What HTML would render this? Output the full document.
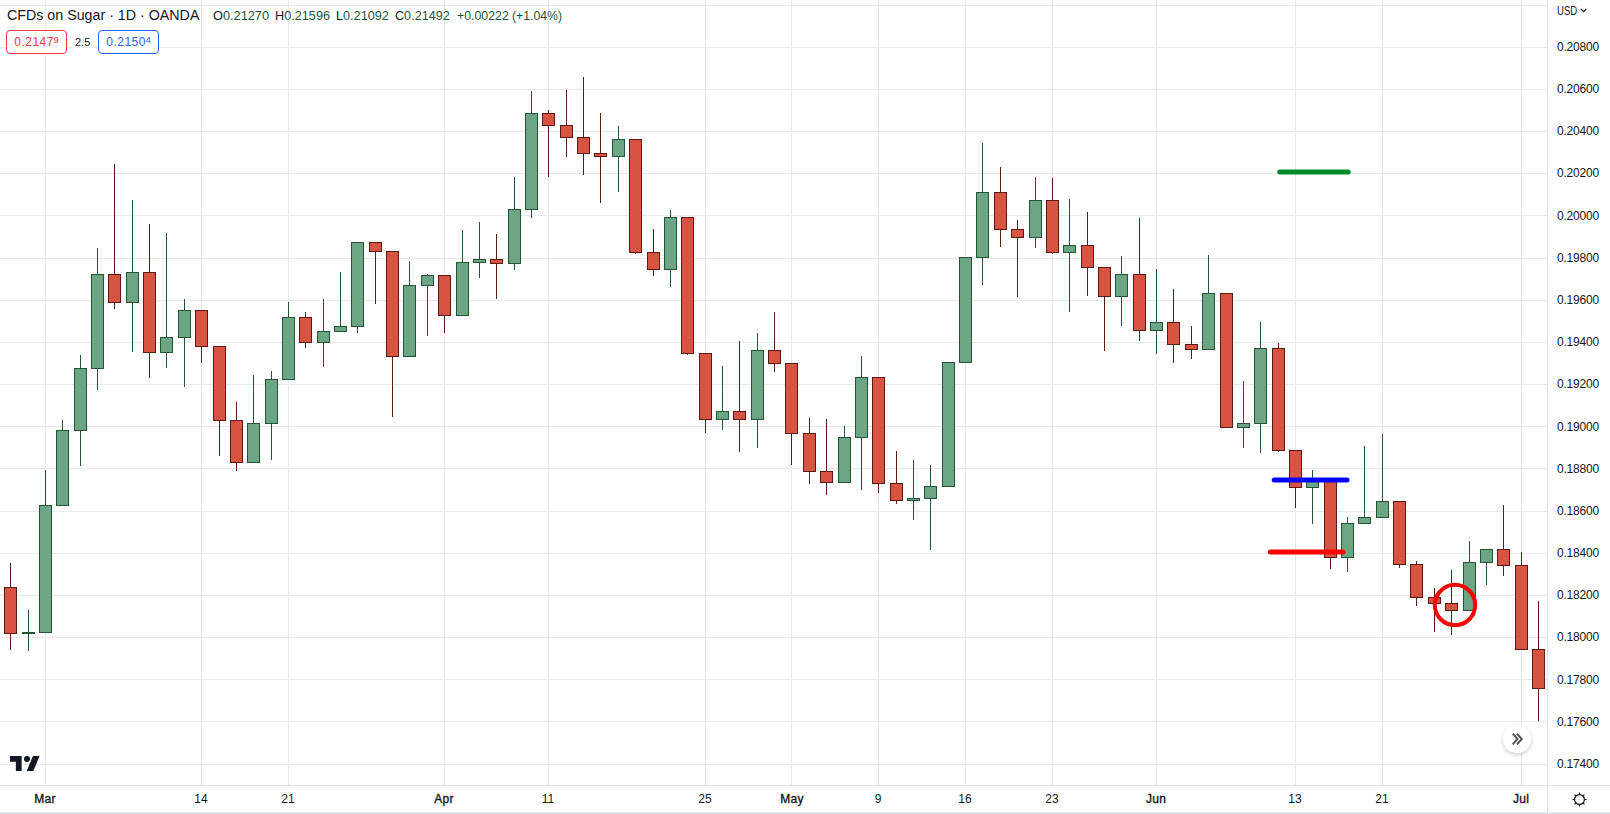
<!DOCTYPE html>
<html><head><meta charset="utf-8"><title>CFDs on Sugar</title>
<style>
html,body{margin:0;padding:0;background:#fff;}
body{width:1610px;height:814px;position:relative;overflow:hidden;font-family:"Liberation Sans",sans-serif;color:#131722;}
.abs{position:absolute;white-space:nowrap;}
.yl{position:absolute;left:1557px;font-size:12px;line-height:14px;height:14px;letter-spacing:-0.2px;color:#131722;}
.xl{position:absolute;top:792px;font-size:12px;line-height:14px;height:14px;width:60px;text-align:center;color:#131722;}
.xl.m{-webkit-text-stroke:0.35px #131722;letter-spacing:0.3px;}
.abs{transform-origin:0 50%;}
.ttl{top:6px;font-size:15.4px;line-height:18px;color:#131722;}
.usd{top:3.7px;font-size:12.4px;line-height:14px;color:#131722;}
.ohlc{top:8px;font-size:13px;line-height:16px;color:#131722;}
.ohlc b{font-weight:normal;color:#225437;}
.box{position:absolute;top:30px;height:22px;width:59px;border:1px solid;border-radius:4px;font-size:12px;line-height:23px;text-align:center;background:#fff;letter-spacing:0.5px;}
.box sup{font-size:9.5px;vertical-align:baseline;position:relative;top:-3.5px;letter-spacing:0;margin-left:-0.5px;}
</style></head><body>

<svg width="1610" height="814" viewBox="0 0 1610 814" style="position:absolute;left:0;top:0" shape-rendering="crispEdges">
<rect x="0" y="5" width="1547" height="1" fill="#e9e9eb"/>
<rect x="0" y="47" width="1547" height="1" fill="#e9e9eb"/>
<rect x="0" y="89" width="1547" height="1" fill="#e9e9eb"/>
<rect x="0" y="131" width="1547" height="1" fill="#e9e9eb"/>
<rect x="0" y="173" width="1547" height="1" fill="#e9e9eb"/>
<rect x="0" y="215" width="1547" height="1" fill="#e9e9eb"/>
<rect x="0" y="258" width="1547" height="1" fill="#e9e9eb"/>
<rect x="0" y="300" width="1547" height="1" fill="#e9e9eb"/>
<rect x="0" y="342" width="1547" height="1" fill="#e9e9eb"/>
<rect x="0" y="384" width="1547" height="1" fill="#e9e9eb"/>
<rect x="0" y="426" width="1547" height="1" fill="#e9e9eb"/>
<rect x="0" y="468" width="1547" height="1" fill="#e9e9eb"/>
<rect x="0" y="511" width="1547" height="1" fill="#e9e9eb"/>
<rect x="0" y="553" width="1547" height="1" fill="#e9e9eb"/>
<rect x="0" y="595" width="1547" height="1" fill="#e9e9eb"/>
<rect x="0" y="637" width="1547" height="1" fill="#e9e9eb"/>
<rect x="0" y="679" width="1547" height="1" fill="#e9e9eb"/>
<rect x="0" y="721" width="1547" height="1" fill="#e9e9eb"/>
<rect x="0" y="764" width="1547" height="1" fill="#e9e9eb"/>
<rect x="45" y="0" width="1" height="785" fill="#e9e9eb"/>
<rect x="201" y="0" width="1" height="785" fill="#e9e9eb"/>
<rect x="288" y="0" width="1" height="785" fill="#e9e9eb"/>
<rect x="444" y="0" width="1" height="785" fill="#e9e9eb"/>
<rect x="548" y="0" width="1" height="785" fill="#e9e9eb"/>
<rect x="705" y="0" width="1" height="785" fill="#e9e9eb"/>
<rect x="791" y="0" width="1" height="785" fill="#e9e9eb"/>
<rect x="878" y="0" width="1" height="785" fill="#e9e9eb"/>
<rect x="965" y="0" width="1" height="785" fill="#e9e9eb"/>
<rect x="1052" y="0" width="1" height="785" fill="#e9e9eb"/>
<rect x="1156" y="0" width="1" height="785" fill="#e9e9eb"/>
<rect x="1295" y="0" width="1" height="785" fill="#e9e9eb"/>
<rect x="1382" y="0" width="1" height="785" fill="#e9e9eb"/>
<rect x="1521" y="0" width="1" height="785" fill="#e9e9eb"/>
<rect x="10" y="563" width="1" height="87" fill="#5b1a13"/>
<rect x="4" y="587" width="13" height="47" fill="#5b1a13"/>
<rect x="5" y="588" width="11" height="45" fill="#d75442"/>
<rect x="28" y="610" width="1" height="41" fill="#225437"/>
<rect x="22" y="632" width="13" height="2" fill="#225437"/>
<rect x="45" y="470" width="1" height="163" fill="#225437"/>
<rect x="39" y="505" width="13" height="128" fill="#225437"/>
<rect x="40" y="506" width="11" height="126" fill="#6ba583"/>
<rect x="62" y="420" width="1" height="86" fill="#225437"/>
<rect x="56" y="430" width="13" height="76" fill="#225437"/>
<rect x="57" y="431" width="11" height="74" fill="#6ba583"/>
<rect x="80" y="355" width="1" height="111" fill="#225437"/>
<rect x="74" y="368" width="13" height="63" fill="#225437"/>
<rect x="75" y="369" width="11" height="61" fill="#6ba583"/>
<rect x="97" y="248" width="1" height="142" fill="#225437"/>
<rect x="91" y="274" width="13" height="95" fill="#225437"/>
<rect x="92" y="275" width="11" height="93" fill="#6ba583"/>
<rect x="114" y="164" width="1" height="145" fill="#5b1a13"/>
<rect x="108" y="274" width="13" height="29" fill="#5b1a13"/>
<rect x="109" y="275" width="11" height="27" fill="#d75442"/>
<rect x="132" y="200" width="1" height="152" fill="#225437"/>
<rect x="126" y="272" width="13" height="31" fill="#225437"/>
<rect x="127" y="273" width="11" height="29" fill="#6ba583"/>
<rect x="149" y="224" width="1" height="154" fill="#5b1a13"/>
<rect x="143" y="272" width="13" height="81" fill="#5b1a13"/>
<rect x="144" y="273" width="11" height="79" fill="#d75442"/>
<rect x="166" y="233" width="1" height="135" fill="#225437"/>
<rect x="160" y="337" width="13" height="16" fill="#225437"/>
<rect x="161" y="338" width="11" height="14" fill="#6ba583"/>
<rect x="184" y="299" width="1" height="88" fill="#225437"/>
<rect x="178" y="310" width="13" height="28" fill="#225437"/>
<rect x="179" y="311" width="11" height="26" fill="#6ba583"/>
<rect x="201" y="310" width="1" height="53" fill="#5b1a13"/>
<rect x="195" y="310" width="13" height="37" fill="#5b1a13"/>
<rect x="196" y="311" width="11" height="35" fill="#d75442"/>
<rect x="219" y="346" width="1" height="110" fill="#5b1a13"/>
<rect x="213" y="346" width="13" height="75" fill="#5b1a13"/>
<rect x="214" y="347" width="11" height="73" fill="#d75442"/>
<rect x="236" y="402" width="1" height="69" fill="#5b1a13"/>
<rect x="230" y="420" width="13" height="43" fill="#5b1a13"/>
<rect x="231" y="421" width="11" height="41" fill="#d75442"/>
<rect x="253" y="375" width="1" height="88" fill="#225437"/>
<rect x="247" y="423" width="13" height="40" fill="#225437"/>
<rect x="248" y="424" width="11" height="38" fill="#6ba583"/>
<rect x="271" y="371" width="1" height="89" fill="#225437"/>
<rect x="265" y="379" width="13" height="45" fill="#225437"/>
<rect x="266" y="380" width="11" height="43" fill="#6ba583"/>
<rect x="288" y="302" width="1" height="78" fill="#225437"/>
<rect x="282" y="317" width="13" height="63" fill="#225437"/>
<rect x="283" y="318" width="11" height="61" fill="#6ba583"/>
<rect x="305" y="312" width="1" height="36" fill="#5b1a13"/>
<rect x="299" y="317" width="13" height="26" fill="#5b1a13"/>
<rect x="300" y="318" width="11" height="24" fill="#d75442"/>
<rect x="323" y="299" width="1" height="68" fill="#225437"/>
<rect x="317" y="331" width="13" height="12" fill="#225437"/>
<rect x="318" y="332" width="11" height="10" fill="#6ba583"/>
<rect x="340" y="272" width="1" height="60" fill="#225437"/>
<rect x="334" y="326" width="13" height="6" fill="#225437"/>
<rect x="335" y="327" width="11" height="4" fill="#6ba583"/>
<rect x="357" y="242" width="1" height="91" fill="#225437"/>
<rect x="351" y="242" width="13" height="85" fill="#225437"/>
<rect x="352" y="243" width="11" height="83" fill="#6ba583"/>
<rect x="375" y="242" width="1" height="62" fill="#5b1a13"/>
<rect x="369" y="242" width="13" height="10" fill="#5b1a13"/>
<rect x="370" y="243" width="11" height="8" fill="#d75442"/>
<rect x="392" y="251" width="1" height="166" fill="#5b1a13"/>
<rect x="386" y="251" width="13" height="106" fill="#5b1a13"/>
<rect x="387" y="252" width="11" height="104" fill="#d75442"/>
<rect x="409" y="261" width="1" height="96" fill="#225437"/>
<rect x="403" y="285" width="13" height="72" fill="#225437"/>
<rect x="404" y="286" width="11" height="70" fill="#6ba583"/>
<rect x="427" y="274" width="1" height="62" fill="#225437"/>
<rect x="421" y="275" width="13" height="11" fill="#225437"/>
<rect x="422" y="276" width="11" height="9" fill="#6ba583"/>
<rect x="444" y="275" width="1" height="58" fill="#5b1a13"/>
<rect x="438" y="275" width="13" height="41" fill="#5b1a13"/>
<rect x="439" y="276" width="11" height="39" fill="#d75442"/>
<rect x="462" y="230" width="1" height="86" fill="#225437"/>
<rect x="456" y="262" width="13" height="54" fill="#225437"/>
<rect x="457" y="263" width="11" height="52" fill="#6ba583"/>
<rect x="479" y="222" width="1" height="56" fill="#225437"/>
<rect x="473" y="259" width="13" height="4" fill="#225437"/>
<rect x="474" y="260" width="11" height="2" fill="#6ba583"/>
<rect x="496" y="234" width="1" height="65" fill="#5b1a13"/>
<rect x="490" y="259" width="13" height="5" fill="#5b1a13"/>
<rect x="491" y="260" width="11" height="3" fill="#d75442"/>
<rect x="514" y="177" width="1" height="93" fill="#225437"/>
<rect x="508" y="209" width="13" height="55" fill="#225437"/>
<rect x="509" y="210" width="11" height="53" fill="#6ba583"/>
<rect x="531" y="91" width="1" height="127" fill="#225437"/>
<rect x="525" y="113" width="13" height="97" fill="#225437"/>
<rect x="526" y="114" width="11" height="95" fill="#6ba583"/>
<rect x="548" y="110" width="1" height="67" fill="#5b1a13"/>
<rect x="542" y="113" width="13" height="13" fill="#5b1a13"/>
<rect x="543" y="114" width="11" height="11" fill="#d75442"/>
<rect x="566" y="90" width="1" height="67" fill="#5b1a13"/>
<rect x="560" y="125" width="13" height="13" fill="#5b1a13"/>
<rect x="561" y="126" width="11" height="11" fill="#d75442"/>
<rect x="583" y="77" width="1" height="98" fill="#5b1a13"/>
<rect x="577" y="137" width="13" height="17" fill="#5b1a13"/>
<rect x="578" y="138" width="11" height="15" fill="#d75442"/>
<rect x="600" y="113" width="1" height="90" fill="#5b1a13"/>
<rect x="594" y="153" width="13" height="4" fill="#5b1a13"/>
<rect x="595" y="154" width="11" height="2" fill="#d75442"/>
<rect x="618" y="126" width="1" height="66" fill="#225437"/>
<rect x="612" y="139" width="13" height="18" fill="#225437"/>
<rect x="613" y="140" width="11" height="16" fill="#6ba583"/>
<rect x="635" y="139" width="1" height="115" fill="#5b1a13"/>
<rect x="629" y="139" width="13" height="114" fill="#5b1a13"/>
<rect x="630" y="140" width="11" height="112" fill="#d75442"/>
<rect x="653" y="229" width="1" height="47" fill="#5b1a13"/>
<rect x="647" y="252" width="13" height="18" fill="#5b1a13"/>
<rect x="648" y="253" width="11" height="16" fill="#d75442"/>
<rect x="670" y="210" width="1" height="77" fill="#225437"/>
<rect x="664" y="217" width="13" height="53" fill="#225437"/>
<rect x="665" y="218" width="11" height="51" fill="#6ba583"/>
<rect x="687" y="217" width="1" height="138" fill="#5b1a13"/>
<rect x="681" y="217" width="13" height="137" fill="#5b1a13"/>
<rect x="682" y="218" width="11" height="135" fill="#d75442"/>
<rect x="705" y="353" width="1" height="80" fill="#5b1a13"/>
<rect x="699" y="353" width="13" height="67" fill="#5b1a13"/>
<rect x="700" y="354" width="11" height="65" fill="#d75442"/>
<rect x="722" y="366" width="1" height="64" fill="#225437"/>
<rect x="716" y="411" width="13" height="9" fill="#225437"/>
<rect x="717" y="412" width="11" height="7" fill="#6ba583"/>
<rect x="739" y="341" width="1" height="111" fill="#5b1a13"/>
<rect x="733" y="411" width="13" height="9" fill="#5b1a13"/>
<rect x="734" y="412" width="11" height="7" fill="#d75442"/>
<rect x="757" y="333" width="1" height="115" fill="#225437"/>
<rect x="751" y="350" width="13" height="70" fill="#225437"/>
<rect x="752" y="351" width="11" height="68" fill="#6ba583"/>
<rect x="774" y="312" width="1" height="60" fill="#5b1a13"/>
<rect x="768" y="350" width="13" height="14" fill="#5b1a13"/>
<rect x="769" y="351" width="11" height="12" fill="#d75442"/>
<rect x="791" y="363" width="1" height="102" fill="#5b1a13"/>
<rect x="785" y="363" width="13" height="71" fill="#5b1a13"/>
<rect x="786" y="364" width="11" height="69" fill="#d75442"/>
<rect x="809" y="418" width="1" height="66" fill="#5b1a13"/>
<rect x="803" y="433" width="13" height="39" fill="#5b1a13"/>
<rect x="804" y="434" width="11" height="37" fill="#d75442"/>
<rect x="826" y="419" width="1" height="76" fill="#5b1a13"/>
<rect x="820" y="471" width="13" height="12" fill="#5b1a13"/>
<rect x="821" y="472" width="11" height="10" fill="#d75442"/>
<rect x="844" y="426" width="1" height="57" fill="#225437"/>
<rect x="838" y="437" width="13" height="46" fill="#225437"/>
<rect x="839" y="438" width="11" height="44" fill="#6ba583"/>
<rect x="861" y="356" width="1" height="134" fill="#225437"/>
<rect x="855" y="377" width="13" height="61" fill="#225437"/>
<rect x="856" y="378" width="11" height="59" fill="#6ba583"/>
<rect x="878" y="377" width="1" height="116" fill="#5b1a13"/>
<rect x="872" y="377" width="13" height="107" fill="#5b1a13"/>
<rect x="873" y="378" width="11" height="105" fill="#d75442"/>
<rect x="896" y="451" width="1" height="53" fill="#5b1a13"/>
<rect x="890" y="483" width="13" height="18" fill="#5b1a13"/>
<rect x="891" y="484" width="11" height="16" fill="#d75442"/>
<rect x="913" y="460" width="1" height="60" fill="#225437"/>
<rect x="907" y="498" width="13" height="3" fill="#225437"/>
<rect x="908" y="499" width="11" height="1" fill="#6ba583"/>
<rect x="930" y="465" width="1" height="85" fill="#225437"/>
<rect x="924" y="486" width="13" height="13" fill="#225437"/>
<rect x="925" y="487" width="11" height="11" fill="#6ba583"/>
<rect x="948" y="362" width="1" height="125" fill="#225437"/>
<rect x="942" y="362" width="13" height="125" fill="#225437"/>
<rect x="943" y="363" width="11" height="123" fill="#6ba583"/>
<rect x="965" y="257" width="1" height="106" fill="#225437"/>
<rect x="959" y="257" width="13" height="106" fill="#225437"/>
<rect x="960" y="258" width="11" height="104" fill="#6ba583"/>
<rect x="982" y="143" width="1" height="142" fill="#225437"/>
<rect x="976" y="192" width="13" height="66" fill="#225437"/>
<rect x="977" y="193" width="11" height="64" fill="#6ba583"/>
<rect x="1000" y="167" width="1" height="80" fill="#5b1a13"/>
<rect x="994" y="192" width="13" height="38" fill="#5b1a13"/>
<rect x="995" y="193" width="11" height="36" fill="#d75442"/>
<rect x="1017" y="220" width="1" height="77" fill="#5b1a13"/>
<rect x="1011" y="229" width="13" height="9" fill="#5b1a13"/>
<rect x="1012" y="230" width="11" height="7" fill="#d75442"/>
<rect x="1035" y="177" width="1" height="71" fill="#225437"/>
<rect x="1029" y="200" width="13" height="38" fill="#225437"/>
<rect x="1030" y="201" width="11" height="36" fill="#6ba583"/>
<rect x="1052" y="178" width="1" height="76" fill="#5b1a13"/>
<rect x="1046" y="200" width="13" height="53" fill="#5b1a13"/>
<rect x="1047" y="201" width="11" height="51" fill="#d75442"/>
<rect x="1069" y="199" width="1" height="113" fill="#225437"/>
<rect x="1063" y="245" width="13" height="8" fill="#225437"/>
<rect x="1064" y="246" width="11" height="6" fill="#6ba583"/>
<rect x="1087" y="212" width="1" height="84" fill="#5b1a13"/>
<rect x="1081" y="245" width="13" height="23" fill="#5b1a13"/>
<rect x="1082" y="246" width="11" height="21" fill="#d75442"/>
<rect x="1104" y="267" width="1" height="84" fill="#5b1a13"/>
<rect x="1098" y="267" width="13" height="30" fill="#5b1a13"/>
<rect x="1099" y="268" width="11" height="28" fill="#d75442"/>
<rect x="1121" y="256" width="1" height="70" fill="#225437"/>
<rect x="1115" y="274" width="13" height="23" fill="#225437"/>
<rect x="1116" y="275" width="11" height="21" fill="#6ba583"/>
<rect x="1139" y="218" width="1" height="123" fill="#5b1a13"/>
<rect x="1133" y="274" width="13" height="57" fill="#5b1a13"/>
<rect x="1134" y="275" width="11" height="55" fill="#d75442"/>
<rect x="1156" y="269" width="1" height="85" fill="#225437"/>
<rect x="1150" y="322" width="13" height="9" fill="#225437"/>
<rect x="1151" y="323" width="11" height="7" fill="#6ba583"/>
<rect x="1173" y="289" width="1" height="74" fill="#5b1a13"/>
<rect x="1167" y="322" width="13" height="23" fill="#5b1a13"/>
<rect x="1168" y="323" width="11" height="21" fill="#d75442"/>
<rect x="1191" y="326" width="1" height="33" fill="#5b1a13"/>
<rect x="1185" y="344" width="13" height="6" fill="#5b1a13"/>
<rect x="1186" y="345" width="11" height="4" fill="#d75442"/>
<rect x="1208" y="255" width="1" height="95" fill="#225437"/>
<rect x="1202" y="293" width="13" height="57" fill="#225437"/>
<rect x="1203" y="294" width="11" height="55" fill="#6ba583"/>
<rect x="1226" y="293" width="1" height="135" fill="#5b1a13"/>
<rect x="1220" y="293" width="13" height="135" fill="#5b1a13"/>
<rect x="1221" y="294" width="11" height="133" fill="#d75442"/>
<rect x="1243" y="381" width="1" height="67" fill="#225437"/>
<rect x="1237" y="423" width="13" height="5" fill="#225437"/>
<rect x="1238" y="424" width="11" height="3" fill="#6ba583"/>
<rect x="1260" y="322" width="1" height="131" fill="#225437"/>
<rect x="1254" y="348" width="13" height="76" fill="#225437"/>
<rect x="1255" y="349" width="11" height="74" fill="#6ba583"/>
<rect x="1278" y="343" width="1" height="109" fill="#5b1a13"/>
<rect x="1272" y="348" width="13" height="103" fill="#5b1a13"/>
<rect x="1273" y="349" width="11" height="101" fill="#d75442"/>
<rect x="1295" y="450" width="1" height="58" fill="#5b1a13"/>
<rect x="1289" y="450" width="13" height="38" fill="#5b1a13"/>
<rect x="1290" y="451" width="11" height="36" fill="#d75442"/>
<rect x="1312" y="470" width="1" height="54" fill="#225437"/>
<rect x="1306" y="481" width="13" height="7" fill="#225437"/>
<rect x="1307" y="482" width="11" height="5" fill="#6ba583"/>
<rect x="1330" y="481" width="1" height="88" fill="#5b1a13"/>
<rect x="1324" y="481" width="13" height="77" fill="#5b1a13"/>
<rect x="1325" y="482" width="11" height="75" fill="#d75442"/>
<rect x="1347" y="517" width="1" height="55" fill="#225437"/>
<rect x="1341" y="523" width="13" height="35" fill="#225437"/>
<rect x="1342" y="524" width="11" height="33" fill="#6ba583"/>
<rect x="1364" y="446" width="1" height="78" fill="#225437"/>
<rect x="1358" y="517" width="13" height="7" fill="#225437"/>
<rect x="1359" y="518" width="11" height="5" fill="#6ba583"/>
<rect x="1382" y="434" width="1" height="84" fill="#225437"/>
<rect x="1376" y="501" width="13" height="17" fill="#225437"/>
<rect x="1377" y="502" width="11" height="15" fill="#6ba583"/>
<rect x="1399" y="501" width="1" height="67" fill="#5b1a13"/>
<rect x="1393" y="501" width="13" height="64" fill="#5b1a13"/>
<rect x="1394" y="502" width="11" height="62" fill="#d75442"/>
<rect x="1416" y="561" width="1" height="45" fill="#5b1a13"/>
<rect x="1410" y="564" width="13" height="34" fill="#5b1a13"/>
<rect x="1411" y="565" width="11" height="32" fill="#d75442"/>
<rect x="1434" y="588" width="1" height="44" fill="#5b1a13"/>
<rect x="1428" y="597" width="13" height="7" fill="#5b1a13"/>
<rect x="1429" y="598" width="11" height="5" fill="#d75442"/>
<rect x="1451" y="570" width="1" height="65" fill="#5b1a13"/>
<rect x="1445" y="603" width="13" height="8" fill="#5b1a13"/>
<rect x="1446" y="604" width="11" height="6" fill="#d75442"/>
<rect x="1469" y="541" width="1" height="70" fill="#225437"/>
<rect x="1463" y="562" width="13" height="49" fill="#225437"/>
<rect x="1464" y="563" width="11" height="47" fill="#6ba583"/>
<rect x="1486" y="549" width="1" height="36" fill="#225437"/>
<rect x="1480" y="549" width="13" height="14" fill="#225437"/>
<rect x="1481" y="550" width="11" height="12" fill="#6ba583"/>
<rect x="1503" y="505" width="1" height="71" fill="#5b1a13"/>
<rect x="1497" y="549" width="13" height="17" fill="#5b1a13"/>
<rect x="1498" y="550" width="11" height="15" fill="#d75442"/>
<rect x="1521" y="552" width="1" height="98" fill="#5b1a13"/>
<rect x="1515" y="565" width="13" height="85" fill="#5b1a13"/>
<rect x="1516" y="566" width="11" height="83" fill="#d75442"/>
<rect x="1538" y="601" width="1" height="120" fill="#5b1a13"/>
<rect x="1532" y="649" width="13" height="40" fill="#5b1a13"/>
<rect x="1533" y="650" width="11" height="38" fill="#d75442"/>
</svg>
<svg width="1610" height="814" viewBox="0 0 1610 814" style="position:absolute;left:0;top:0">
<line x1="1279.7" y1="172" x2="1348.3" y2="172" stroke="#008a27" stroke-width="5" stroke-linecap="round"/>
<line x1="1274.3" y1="480" x2="1347" y2="480" stroke="#0000ff" stroke-width="5" stroke-linecap="round"/>
<line x1="1270.3" y1="552" x2="1343" y2="552" stroke="#ff0000" stroke-width="5" stroke-linecap="round"/>
<circle cx="1455" cy="605" r="20.2" fill="none" stroke="#ff0000" stroke-width="4"/>
<rect x="1547" y="0" width="1" height="814" fill="#e0e0e5"/>
<rect x="0" y="785" width="1610" height="1" fill="#e0e0e5"/>
<rect x="0" y="812" width="1610" height="1" fill="#eceef3"/><rect x="0" y="813" width="1610" height="1" fill="#d8dbe3"/>
<g transform="translate(10,752.7) scale(0.8333)" fill="#131722" stroke="#fff" stroke-width="3" paint-order="stroke" stroke-linejoin="round">
<path d="M14 22H7V11H0V4h14v18z"/><circle cx="20.4" cy="7.5" r="3.6"/><path d="M28 22h-8l7.5-18h8L28 22z"/>
</g>
<g fill="none" stroke="#131722" stroke-width="1.2">
<circle cx="1579.5" cy="799.5" r="4.9"/>
<path d="M1579.5 792.5v2.2M1579.5 804.3v2.2M1572.5 799.5h2.2M1584.3 799.5h2.2M1574.55 794.55l1.55 1.55M1582.9 802.9l1.55 1.55M1574.55 804.45l1.55-1.55M1582.9 796.1l1.55-1.55"/>
</g>
<path d="M1581 9l2.6 2.6 2.6-2.6" fill="none" stroke="#131722" stroke-width="1.2"/>
</svg>
<div class="abs" style="left:1503px;top:725px;width:28px;height:28px;border-radius:50%;background:rgba(255,255,255,0.92);box-shadow:0 2px 4px rgba(0,0,0,0.2);"></div>
<svg width="28" height="28" viewBox="0 0 28 28" style="position:absolute;left:1503px;top:725px"><path d="M9.7 8.6l4.8 5.4-4.8 5.4M14 8.6l4.8 5.4-4.8 5.4" fill="none" stroke="#50535e" stroke-width="1.9"/></svg>

<div class="yl" style="top:40px">0.20800</div>
<div class="yl" style="top:82px">0.20600</div>
<div class="yl" style="top:124px">0.20400</div>
<div class="yl" style="top:166px">0.20200</div>
<div class="yl" style="top:209px">0.20000</div>
<div class="yl" style="top:251px">0.19800</div>
<div class="yl" style="top:293px">0.19600</div>
<div class="yl" style="top:335px">0.19400</div>
<div class="yl" style="top:377px">0.19200</div>
<div class="yl" style="top:420px">0.19000</div>
<div class="yl" style="top:462px">0.18800</div>
<div class="yl" style="top:504px">0.18600</div>
<div class="yl" style="top:546px">0.18400</div>
<div class="yl" style="top:588px">0.18200</div>
<div class="yl" style="top:630px">0.18000</div>
<div class="yl" style="top:673px">0.17800</div>
<div class="yl" style="top:715px">0.17600</div>
<div class="yl" style="top:757px">0.17400</div>
<div class="xl m" style="left:15px">Mar</div>
<div class="xl" style="left:171px">14</div>
<div class="xl" style="left:258px">21</div>
<div class="xl m" style="left:414px">Apr</div>
<div class="xl" style="left:518px">11</div>
<div class="xl" style="left:675px">25</div>
<div class="xl m" style="left:762px">May</div>
<div class="xl" style="left:848px">9</div>
<div class="xl" style="left:935px">16</div>
<div class="xl" style="left:1022px">23</div>
<div class="xl m" style="left:1126px">Jun</div>
<div class="xl" style="left:1265px">13</div>
<div class="xl" style="left:1352px">21</div>
<div class="xl m" style="left:1491px">Jul</div>
<div class="abs usd" id="usd" style="left:1557.22px;transform:scaleX(0.7746);">USD</div>
<div class="abs ttl" id="ttl" style="left:6.63px;transform:scaleX(0.9257);">CFDs on Sugar · 1D · OANDA</div>
<div class="abs ohlc" id="g1" style="left:212.98px;transform:scaleX(0.9813);">O<b>0.21270</b></div>
<div class="abs ohlc" id="g2" style="left:274.80px;transform:scaleX(0.9752);">H<b>0.21596</b></div>
<div class="abs ohlc" id="g3" style="left:335.51px;transform:scaleX(0.9733);">L<b>0.21092</b></div>
<div class="abs ohlc" id="g4" style="left:394.90px;transform:scaleX(0.9714);">C<b>0.21492</b></div>
<div class="abs ohlc" id="g5" style="left:456.60px;transform:scaleX(0.9483);"><b>+0.00222</b></div>
<div class="abs ohlc" id="g6" style="left:511.69px;transform:scaleX(0.9435);"><b>(+1.04%)</b></div>
<div class="box" style="left:6px;border-color:#f23645;color:#f23645;">0.2147<sup>9</sup></div>
<div class="abs" style="left:75px;top:35px;font-size:11px;line-height:14px;color:#131722;">2.5</div>
<div class="box" style="left:98px;border-color:#2962ff;color:#2962ff;">0.2150<sup>4</sup></div>
</body></html>
